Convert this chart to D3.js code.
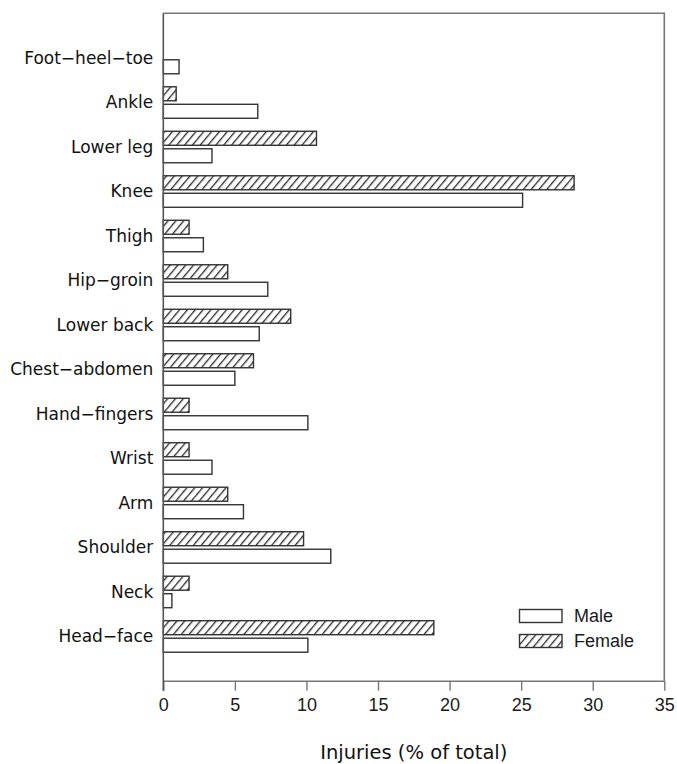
<!DOCTYPE html>
<html>

<head>
  <title>Injuries by body part</title>
  <style type="text/css">
    body {
      margin: 0;
      background: #fff;
    }
  </style>
</head>

<body>
  <div id="chart"></div>
  <script type="text/javascript" src="https://cdn.jsdelivr.net/npm/d3@7/dist/d3.min.js"></script>
  <script type="text/javascript">
    var categories = ["Foot\u2212heel\u2212toe", "Ankle", "Lower leg", "Knee", "Thigh", "Hip\u2212groin",
      "Lower back", "Chest\u2212abdomen", "Hand\u2212fingers", "Wrist", "Arm", "Shoulder", "Neck", "Head\u2212face"];
    var male = [1.1, 6.6, 3.4, 25.1, 2.8, 7.3, 6.7, 5.0, 10.1, 3.4, 5.6, 11.7, 0.6, 10.1];
    var female = [0, 0.9, 10.7, 28.7, 1.8, 4.5, 8.9, 6.3, 1.8, 1.8, 4.5, 9.8, 1.8, 18.9];
    var xTicks = [0, 5, 10, 15, 20, 25, 30, 35];

    // note: "top" is a reserved window property, so use plot* names
    var w = 677, h = 764,
      plotL = 163.3, plotR = 664.3, plotT = 13.3, plotB = 680.7;

    var svg = d3.select("#chart").append("svg")
      .attr("width", w)
      .attr("height", h);

    var defs = svg.append("defs");
    var pat = defs.append("pattern")
      .attr("id", "hatch")
      .attr("patternUnits", "userSpaceOnUse")
      .attr("width", 6)
      .attr("height", 6)
      .attr("patternTransform", "rotate(40)");
    pat.append("rect").attr("width", 6).attr("height", 6).attr("fill", "#fff");
    pat.append("line")
      .attr("x1", 0).attr("y1", 0).attr("x2", 0).attr("y2", 6)
      .attr("stroke", "#2a2a2a").attr("stroke-width", 2.6);

    var x = d3.scaleLinear().domain([0, 35]).range([plotL, plotR]);
    var y = d3.scalePoint().domain(categories).range([plotT, plotB]).padding(1);

    // frame (top and right)
    svg.append("path")
      .attr("d", "M" + plotL + "," + plotT + "H" + plotR + "V" + plotB)
      .attr("fill", "none")
      .attr("stroke", "#777")
      .attr("stroke-width", 1.6);

    // bars
    var barH = 14;
    svg.append("g").selectAll("rect")
      .data(categories)
      .enter().append("rect")
      .attr("x", x(0))
      .attr("y", function (d) { return y(d) - 15.5; })
      .attr("width", function (d, i) { return x(female[i]) - x(0); })
      .attr("height", barH)
      .attr("fill", "url(#hatch)")
      .attr("stroke", "#333")
      .attr("stroke-width", 1.4)
      .style("display", function (d, i) { return female[i] > 0 ? null : "none"; });

    svg.append("g").selectAll("rect")
      .data(categories)
      .enter().append("rect")
      .attr("x", x(0))
      .attr("y", function (d) { return y(d) + 2; })
      .attr("width", function (d, i) { return x(male[i]) - x(0); })
      .attr("height", barH)
      .attr("fill", "#fff")
      .attr("stroke", "#333")
      .attr("stroke-width", 1.4);

    // x axis
    var xAxis = svg.append("g")
      .attr("transform", "translate(0," + plotB + ")")
      .call(d3.axisBottom(x).tickValues(xTicks).tickSize(10).tickPadding(8).tickSizeOuter(0));
    xAxis.select(".domain").attr("stroke", "#777").attr("stroke-width", 1.6);
    xAxis.selectAll(".tick line").attr("stroke", "#777").attr("stroke-width", 1.4);
    xAxis.selectAll("text")
      .attr("font-family", "Liberation Sans, Arial, sans-serif")
      .attr("font-size", 18)
      .attr("fill", "#1a1a1a");

    // y axis line
    svg.append("line")
      .attr("x1", plotL).attr("x2", plotL)
      .attr("y1", plotT).attr("y2", plotB + 10)
      .attr("stroke", "#555")
      .attr("stroke-width", 1.6);

    svg.append("g").selectAll("text")
      .data(categories)
      .enter().append("text")
      .attr("x", plotL - 10)
      .attr("y", function (d) { return y(d); })
      .attr("dy", "0.35em")
      .attr("text-anchor", "end")
      .attr("font-family", "DejaVu Sans, sans-serif")
      .attr("font-size", 17)
      .attr("fill", "#111")
      .text(function (d) { return d; });

    // axis title
    svg.append("text")
      .attr("x", (plotL + plotR) / 2)
      .attr("y", 759)
      .attr("text-anchor", "middle")
      .attr("font-family", "DejaVu Sans, sans-serif")
      .attr("font-size", 19.5)
      .attr("fill", "#111")
      .text("Injuries (% of total)");

    // legend
    var legend = [{ name: "Male", fill: "#fff" }, { name: "Female", fill: "url(#hatch)" }];
    var lg = svg.append("g").selectAll("g")
      .data(legend)
      .enter().append("g")
      .attr("transform", function (d, i) { return "translate(519.5," + (609.5 + i * 25) + ")"; });
    lg.append("rect")
      .attr("width", 42.5)
      .attr("height", 13)
      .attr("fill", function (d) { return d.fill; })
      .attr("stroke", "#333")
      .attr("stroke-width", 1.4);
    lg.append("text")
      .attr("x", 54.5)
      .attr("y", 6.5)
      .attr("dy", "0.35em")
      .attr("font-family", "Liberation Sans, Arial, sans-serif")
      .attr("font-size", 18)
      .attr("fill", "#1a1a1a")
      .text(function (d) { return d.name; });
  </script>
</body>

</html>
